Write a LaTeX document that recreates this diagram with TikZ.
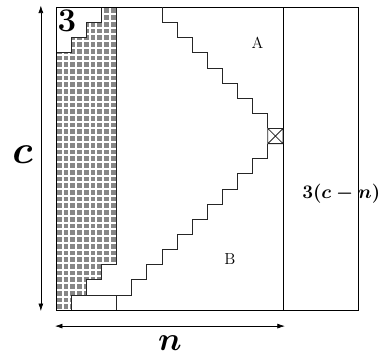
\documentclass[tikz,border=0pt]{standalone}
\usepackage{amsmath,amssymb}
\usepackage{tikz}
\usetikzlibrary{arrows.meta,positioning}

\begin{document}
\begin{tikzpicture}[x=0.4cm, y=0.4cm,
  edge/.style={line width=0.6pt},
  stair/.style={line width=0.6pt, draw=black!85},
  dim/.style={{Latex[length=2mm,width=1.3mm]}-{Latex[length=2mm,width=1.3mm]}, line width=0.5pt},
  lbl/.style={inner sep=0pt}
]
\useasboundingbox (-3.70,-3.04) rectangle (21.61,20.49);
\begin{scope}
\clip (0,0) -- (1,0) -- (1,1) -- (2,1) -- (2,2) -- (3,2) -- (3,3) -- (4,3) -- (4,20) -- (3,20) -- (3,19) -- (2,19) -- (2,18) -- (1,18) -- (1,17) -- (0,17) -- cycle;
\fill[black!47] (0,0) rectangle (4,20);
\draw[white, line width=1.5pt, step=0.4444] (0,0) grid (4,20);
\end{scope}
\draw[stair] (0,0) -- (1,0) -- (1,1) -- (2,1) -- (2,2) -- (3,2) -- (3,3) -- (4,3) -- (4,20) -- (3,20) -- (3,19) -- (2,19) -- (2,18) -- (1,18) -- (1,17) -- (0,17) -- cycle;
\draw[edge] (0,0) rectangle (20,20);
\draw[edge] (15,0) -- (15,20);
\draw[stair] (1,1) -- (4,1) -- (4,0);
\draw[stair] (4,1) -- (5,1) -- (5,2) -- (6,2) -- (6,3) -- (7,3) -- (7,4) -- (8,4) -- (8,5) -- (9,5) -- (9,6) -- (10,6) -- (10,7) -- (11,7) -- (11,8) -- (12,8) -- (12,9) -- (13,9) -- (13,10) -- (14,10) -- (14,11);
\draw[stair] (14,12) -- (14,13) -- (13,13) -- (13,14) -- (12,14) -- (12,15) -- (11,15) -- (11,16) -- (10,16) -- (10,17) -- (9,17) -- (9,18) -- (8,18) -- (8,19) -- (7,19) -- (7,20);
\draw[stair] (14,11) rectangle (15,12) (14,11) -- (15,12) (14,12) -- (15,11);
\node[lbl] (three) at (0.73,19.12) {\Huge\bfseries 3};
\node[lbl] (labA) at (13.32,17.68) {\large A};
\node[lbl] (labB) at (11.5,3.37) {\large B};
\node[lbl, anchor=base west] (rest) at (16.26,7.34) {\Large$\boldsymbol{3(c-n)}$};
\coordinate (ctop) at (-1,20.13);
\coordinate (cbot) at (-1,-0.07);
\draw[dim] (cbot) -- (ctop);
\node[lbl, scale=1.2] (clbl) at (-2.21,10.28) {\Huge$\boldsymbol{c}$};
\coordinate (nleft) at (-0.07,-1.06);
\coordinate (nright) at (15.13,-1.06);
\draw[dim] (nleft) -- (nright);
\node[lbl, anchor=base] (nlbl) at (7.53,-2.65) {\Huge$\boldsymbol{n}$};
\end{tikzpicture}
\end{document}
